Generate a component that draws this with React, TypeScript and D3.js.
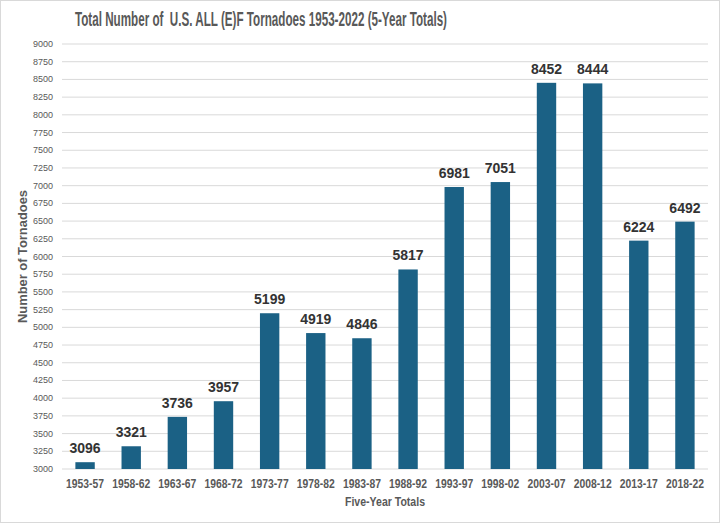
import React from "react";
import * as d3 from "d3";

const categories = ["1953-57","1958-62","1963-67","1968-72","1973-77","1978-82","1983-87","1988-92","1993-97","1998-02","2003-07","2008-12","2013-17","2018-22"];
const values = [3096,3321,3736,3957,5199,4919,4846,5817,6981,7051,8452,8444,6224,6492];
const yTicks = d3.range(3000, 9001, 250);

const W = 720, H = 523;
const M = { left: 62, right: 12, top: 44, bottom: 54 };

export default function App() {
  const x = d3.scaleBand<string>().domain(categories).range([M.left, W - M.right]).paddingInner(0.58).paddingOuter(0.29);
  const y = d3.scaleLinear().domain([3000, 9000]).range([H - M.bottom, M.top]);
  const narrow = "'Liberation Sans', Arial, sans-serif";
  return (
    <svg width={W} height={H} style={{ position: "absolute", left: 0, top: 0, background: "#fff" }}>
      <rect x={0.5} y={0.5} width={W - 1} height={H - 1} fill="#fff" stroke="#d9d9d9" />
      <text x={75} y={26} textLength={372} lengthAdjust="spacingAndGlyphs" fontFamily={narrow} fontWeight="bold" fontSize={20} fill="#595959" style={{ whiteSpace: "pre" }}>
        {"Total Number of  U.S. ALL (E)F Tornadoes 1953-2022 (5-Year Totals)"}
      </text>
      {yTicks.map(t => (
        <g key={t}>
          <line x1={M.left} x2={W - M.right} y1={y(t)} y2={y(t)} stroke="#d9d9d9" strokeWidth={1} />
          <text x={53} y={y(t) + 3} textAnchor="end" fontFamily="Liberation Sans, Arial, sans-serif" fontSize={9} fill="#595959">{t}</text>
        </g>
      ))}
      {categories.map((c, i) => (
        <g key={c}>
          <rect x={x(c)!} y={y(values[i])} width={x.bandwidth()} height={y(3000) - y(values[i])} fill="#1b6185" />
          <text x={x(c)! + x.bandwidth() / 2} y={y(values[i]) - 9} textAnchor="middle" fontFamily="Liberation Sans, Arial, sans-serif" fontWeight="bold" fontSize={14} fill="#333">{values[i]}</text>
          <text x={x(c)! + x.bandwidth() / 2 - 19} y={488} textLength={38} lengthAdjust="spacingAndGlyphs" fontFamily={narrow} fontWeight="bold" fontSize={12} fill="#595959">{c}</text>
        </g>
      ))}
      <text x={345} y={506} textLength={80} lengthAdjust="spacingAndGlyphs" fontFamily={narrow} fontWeight="bold" fontSize={12} fill="#595959">Five-Year Totals</text>
      <text transform={`translate(27, 323) rotate(-90)`} textLength={133} lengthAdjust="spacingAndGlyphs" fontFamily={narrow} fontWeight="bold" fontSize={13} fill="#595959">Number of Tornadoes</text>
    </svg>
  );
}
